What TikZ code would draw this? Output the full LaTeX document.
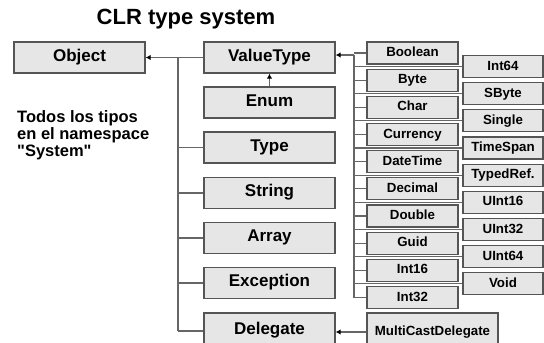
\documentclass[tikz,border=0pt]{standalone}
\usepackage{fontspec}
\setmainfont{Liberation Sans}[Ligatures=TeXOff]
\usetikzlibrary{arrows.meta,backgrounds}
\definecolor{boxfill}{HTML}{E6E6E6}
\definecolor{boxline}{HTML}{555555}
\definecolor{linecol}{HTML}{666666}
\begin{document}
\begin{tikzpicture}[x=1pt,y=-1pt,
 box/.style={draw=boxline, fill=boxfill, line width=1.3pt, inner sep=0pt, minimum width=131pt, minimum height=31pt, text height=0.72em, text depth=0pt, font=\fontsize{17}{20}\selectfont\bfseries},
 sbox/.style={draw=boxline, fill=boxfill, line width=1.2pt, inner sep=0pt, minimum width=91pt, minimum height=22pt, text height=0.72em, text depth=0pt, font=\fontsize{13.3}{15}\selectfont\bfseries},
 tbox/.style={sbox, minimum width=80pt},
 conn/.style={draw=linecol, line width=1.1pt},
 arr/.style={conn, -{Latex[length=5pt,width=5.5pt,color=black]}}]
\useasboundingbox (0,0) rectangle (544,343);

\node[font=\fontsize{22}{26}\selectfont\bfseries] (title) at (186,19) {CLR type system};
\node[anchor=north west, align=left, inner sep=0pt, font=\fontsize{16.5}{17}\selectfont\bfseries] (note) at (17,110) {Todos los tipos\\en el namespace\\"System"};

\node[box] (Object) at (79.5,57.5) {Object};
\node[box] (ValueType) at (269.5,57.5) {ValueType};
\node[box] (Enum) at (269.5,102.5) {Enum};
\node[box] (Type) at (269.5,147.5) {Type};
\node[box] (String) at (269.5,193) {String};
\node[box] (Array) at (269.5,238) {Array};
\node[box] (Exception) at (269.5,283) {Exception};
\node[box, minimum height=36pt] (Delegate) at (269.5,331) {Delegate};

\foreach \n [count=\i from 0] in {Boolean,Byte,Char,Currency,DateTime,Decimal,Double,Guid,Int16,Int32}
  \node[sbox] (\n) at (412.5,53+27.17*\i) {\n};
\foreach \n/\t [count=\i from 0] in {Int64/Int64,SByte/SByte,Single/Single,TimeSpan/TimeSpan,TypedRef/TypedRef.,UInt16/UInt16,UInt32/UInt32,UInt64/UInt64,Void/Void}
  \node[tbox] (\n) at (503,66.5+27.17*\i) {\t};

\node[sbox, minimum width=131pt, minimum height=38pt] (MultiCastDelegate) at (432.5,332) {MultiCastDelegate};

\begin{pgfonlayer}{background}
\fill[white] (0,0) rectangle (544,343);
\coordinate (ov) at (178,0);
\draw[arr] (ValueType.west) -- (Object.east);
\draw[conn] (ov |- Object.east) -- (ov |- Delegate.west);
\foreach \n in {Type,String,Array,Exception,Delegate}
  \draw[conn] (ov |- \n.west) -- (\n.west);
\draw[arr] (Enum.north) -- (ValueType.south);
\coordinate (rv) at (354,55);
\draw[arr] (rv) -- (rv -| ValueType.east);
\draw[conn] (rv) -- (rv |- Int32.west);
\foreach \n in {Boolean,Byte,Char,Currency,DateTime,Decimal,Double,Guid,Int16,Int32,Int64,SByte,Single,TimeSpan,TypedRef,UInt16,UInt32,UInt64,Void}
  \draw[conn] (rv |- \n.west) -- (\n.west);
\draw[arr] (MultiCastDelegate.west) -- (MultiCastDelegate.west -| Delegate.east);
\end{pgfonlayer}
\end{tikzpicture}
\end{document}
